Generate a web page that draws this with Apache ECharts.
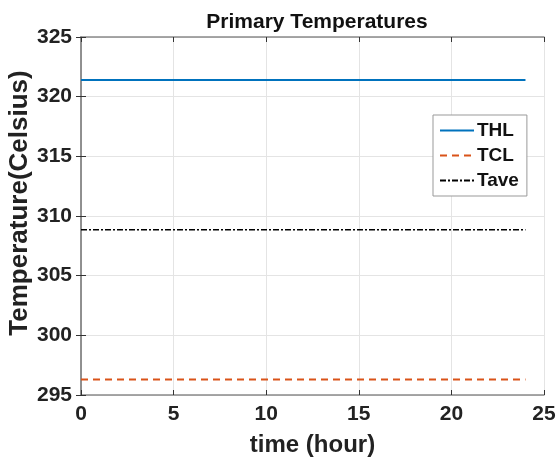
<!DOCTYPE html>
<html>
<head>
<meta charset="utf-8">
<script src="https://cdn.jsdelivr.net/npm/echarts@6/dist/echarts.min.js"></script>
<style>
  html, body { margin: 0; padding: 0; background: #fff; }
  #chart { width: 557px; height: 464px; }
</style>
</head>
<body>
<div id="chart"></div>
<script>
// data
var hours = [0, 24];
var thl = [321.4, 321.4];
var tcl = [296.3, 296.3];
var tave = [308.85, 308.85];
var xTicks = [0, 5, 10, 15, 20, 25];
var yTicks = [295, 300, 305, 310, 315, 320, 325];

var font = 'Liberation Sans, Arial, Helvetica, sans-serif';
var axisGray = '#8a8a8a';

function pairs(xs, ys) {
  return xs.map(function (x, i) { return [x, ys[i]]; });
}

var boxAxis = {
  axisLine: { show: true, lineStyle: { color: axisGray, width: 1.5 } },
  axisTick: { show: true, inside: true, length: 5, lineStyle: { color: '#333', width: 1 } },
  splitLine: { show: false },
  axisLabel: { show: false }
};

var myChart = echarts.init(document.getElementById('chart'));
myChart.setOption({
  animation: false,
  backgroundColor: '#fff',
  title: {
    text: 'Primary Temperatures',
    left: 312, top: 7, textAlign: 'center',
    textStyle: { fontFamily: font, fontWeight: 'bold', fontSize: 21, color: '#111' }
  },
  grid: { left: 81, top: 37, width: 463, height: 358, containLabel: false, outerBoundsMode: 'none' },
  legend: {
    orient: 'vertical',
    left: 433, top: 115,
    padding: [6, 8, 6, 6],
    itemGap: 6,
    itemWidth: 34,
    itemHeight: 14,
    backgroundColor: '#fff',
    borderColor: '#999',
    borderWidth: 1,
    textStyle: { fontFamily: font, fontWeight: 'bold', fontSize: 19, color: '#111', padding: [0, 0, 0, -2] },
    data: ['THL', 'TCL', 'Tave']
  },
  xAxis: [
    {
      type: 'value', min: 0, max: 25, interval: 5,
      name: 'time (hour)', nameLocation: 'middle', nameGap: 38, nameMoveOverlap: false,
      nameTextStyle: { fontFamily: font, fontWeight: 'bold', fontSize: 24, color: '#222' },
      axisLine: { show: true, lineStyle: { color: axisGray, width: 1.5 } },
      axisTick: { show: true, inside: true, length: 5, lineStyle: { color: '#333', width: 1 } },
      axisLabel: { margin: 9, fontFamily: font, fontWeight: 'bold', fontSize: 21, color: '#222',
        formatter: function (v) { return xTicks.indexOf(v) >= 0 ? String(v) : ''; } },
      splitLine: { show: true, lineStyle: { color: '#e4e4e4', width: 1 } }
    },
    Object.assign({ type: 'value', min: 0, max: 25, interval: 5, position: 'top' }, boxAxis)
  ],
  yAxis: [
    {
      type: 'value', min: 295, max: 325, interval: 5,
      name: 'Temperature(Celsius)', nameLocation: 'middle', nameGap: 48, nameMoveOverlap: false,
      nameTextStyle: { fontFamily: font, fontWeight: 'bold', fontSize: 26, color: '#222', padding: [0, 0, 0, 26] },
      axisLine: { show: true, lineStyle: { color: axisGray, width: 1.5 } },
      axisTick: { show: true, inside: true, length: 5, lineStyle: { color: '#333', width: 1 } },
      axisLabel: { margin: 9, fontFamily: font, fontWeight: 'bold', fontSize: 21, color: '#222',
        formatter: function (v) { return yTicks.indexOf(v) >= 0 ? String(v) : ''; } },
      splitLine: { show: true, lineStyle: { color: '#e4e4e4', width: 1 } }
    },
    Object.assign({ type: 'value', min: 295, max: 325, interval: 5, position: 'right' }, boxAxis)
  ],
  series: [
    {
      name: 'THL', type: 'line', symbol: 'none', data: pairs(hours, thl),
      lineStyle: { color: '#0072BD', width: 2 }, itemStyle: { color: '#0072BD', opacity: 0 }
    },
    {
      name: 'TCL', type: 'line', symbol: 'none', data: pairs(hours, tcl),
      lineStyle: { color: '#D95319', width: 2, type: [7, 5] }, itemStyle: { color: '#D95319', opacity: 0 }
    },
    {
      name: 'Tave', type: 'line', symbol: 'none', data: pairs(hours, tave),
      lineStyle: { color: '#000', width: 1.5, type: [6, 2, 2, 2] }, itemStyle: { color: '#000', opacity: 0 }
    }
  ]
});
</script>
</body>
</html>
